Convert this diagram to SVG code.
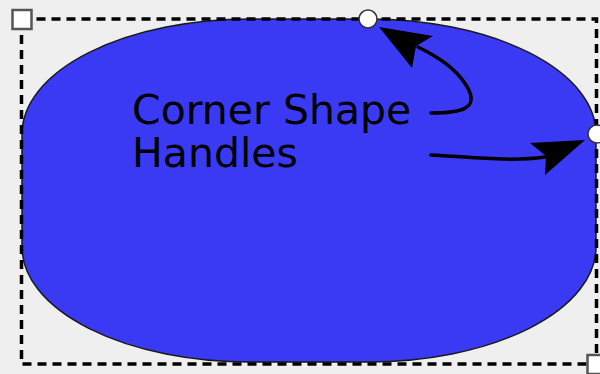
<svg xmlns="http://www.w3.org/2000/svg" width="600" height="374" viewBox="0 0 600 374">
<style>
.txt{font-family:"DejaVu Sans",sans-serif;font-size:41px;fill:#000}
.conn{fill:none;stroke:#000;stroke-width:3.5;stroke-linecap:round}
.head{fill:#000}
.sq{fill:#fff;stroke:#555;stroke-width:2.5}
.ci{fill:#fff;stroke:#333;stroke-width:1.5}
</style>
<rect width="600" height="374" fill="#efefef"/>
<g id="shape">
<rect x="22" y="19" width="574" height="343" rx="228" ry="115" fill="#3a3af5" stroke="#1a1a1a" stroke-width="1.5"/>
</g>
<g id="bbox">
<rect x="21.5" y="19" width="575" height="345" fill="none" stroke="#000" stroke-width="3.5" stroke-dasharray="9,6"/>
<rect class="sq" x="12.5" y="10" width="19" height="19"/>
<rect class="sq" x="587.5" y="355" width="19" height="19"/>
</g>
<g id="label">
<text class="txt" x="132" y="124">Corner Shape</text>
<text class="txt" x="132" y="167">Handles</text>
</g>
<g id="connectors">
<path class="conn" d="M431,113 C458,113 482,110 466,85 C456,69 440,58 418,47"/>
<path class="head" d="M379,27 L433,36 L416,46 L412,68 Z"/>
<path class="conn" d="M431,155 C472,157 510,162 545,157"/>
<path class="head" d="M585,140 L545,175 L546,156 L530,143 Z"/>
</g>
<g id="handles">
<circle class="ci" cx="368" cy="19" r="9"/>
<circle class="ci" cx="597" cy="134" r="9"/>
</g>
</svg>
